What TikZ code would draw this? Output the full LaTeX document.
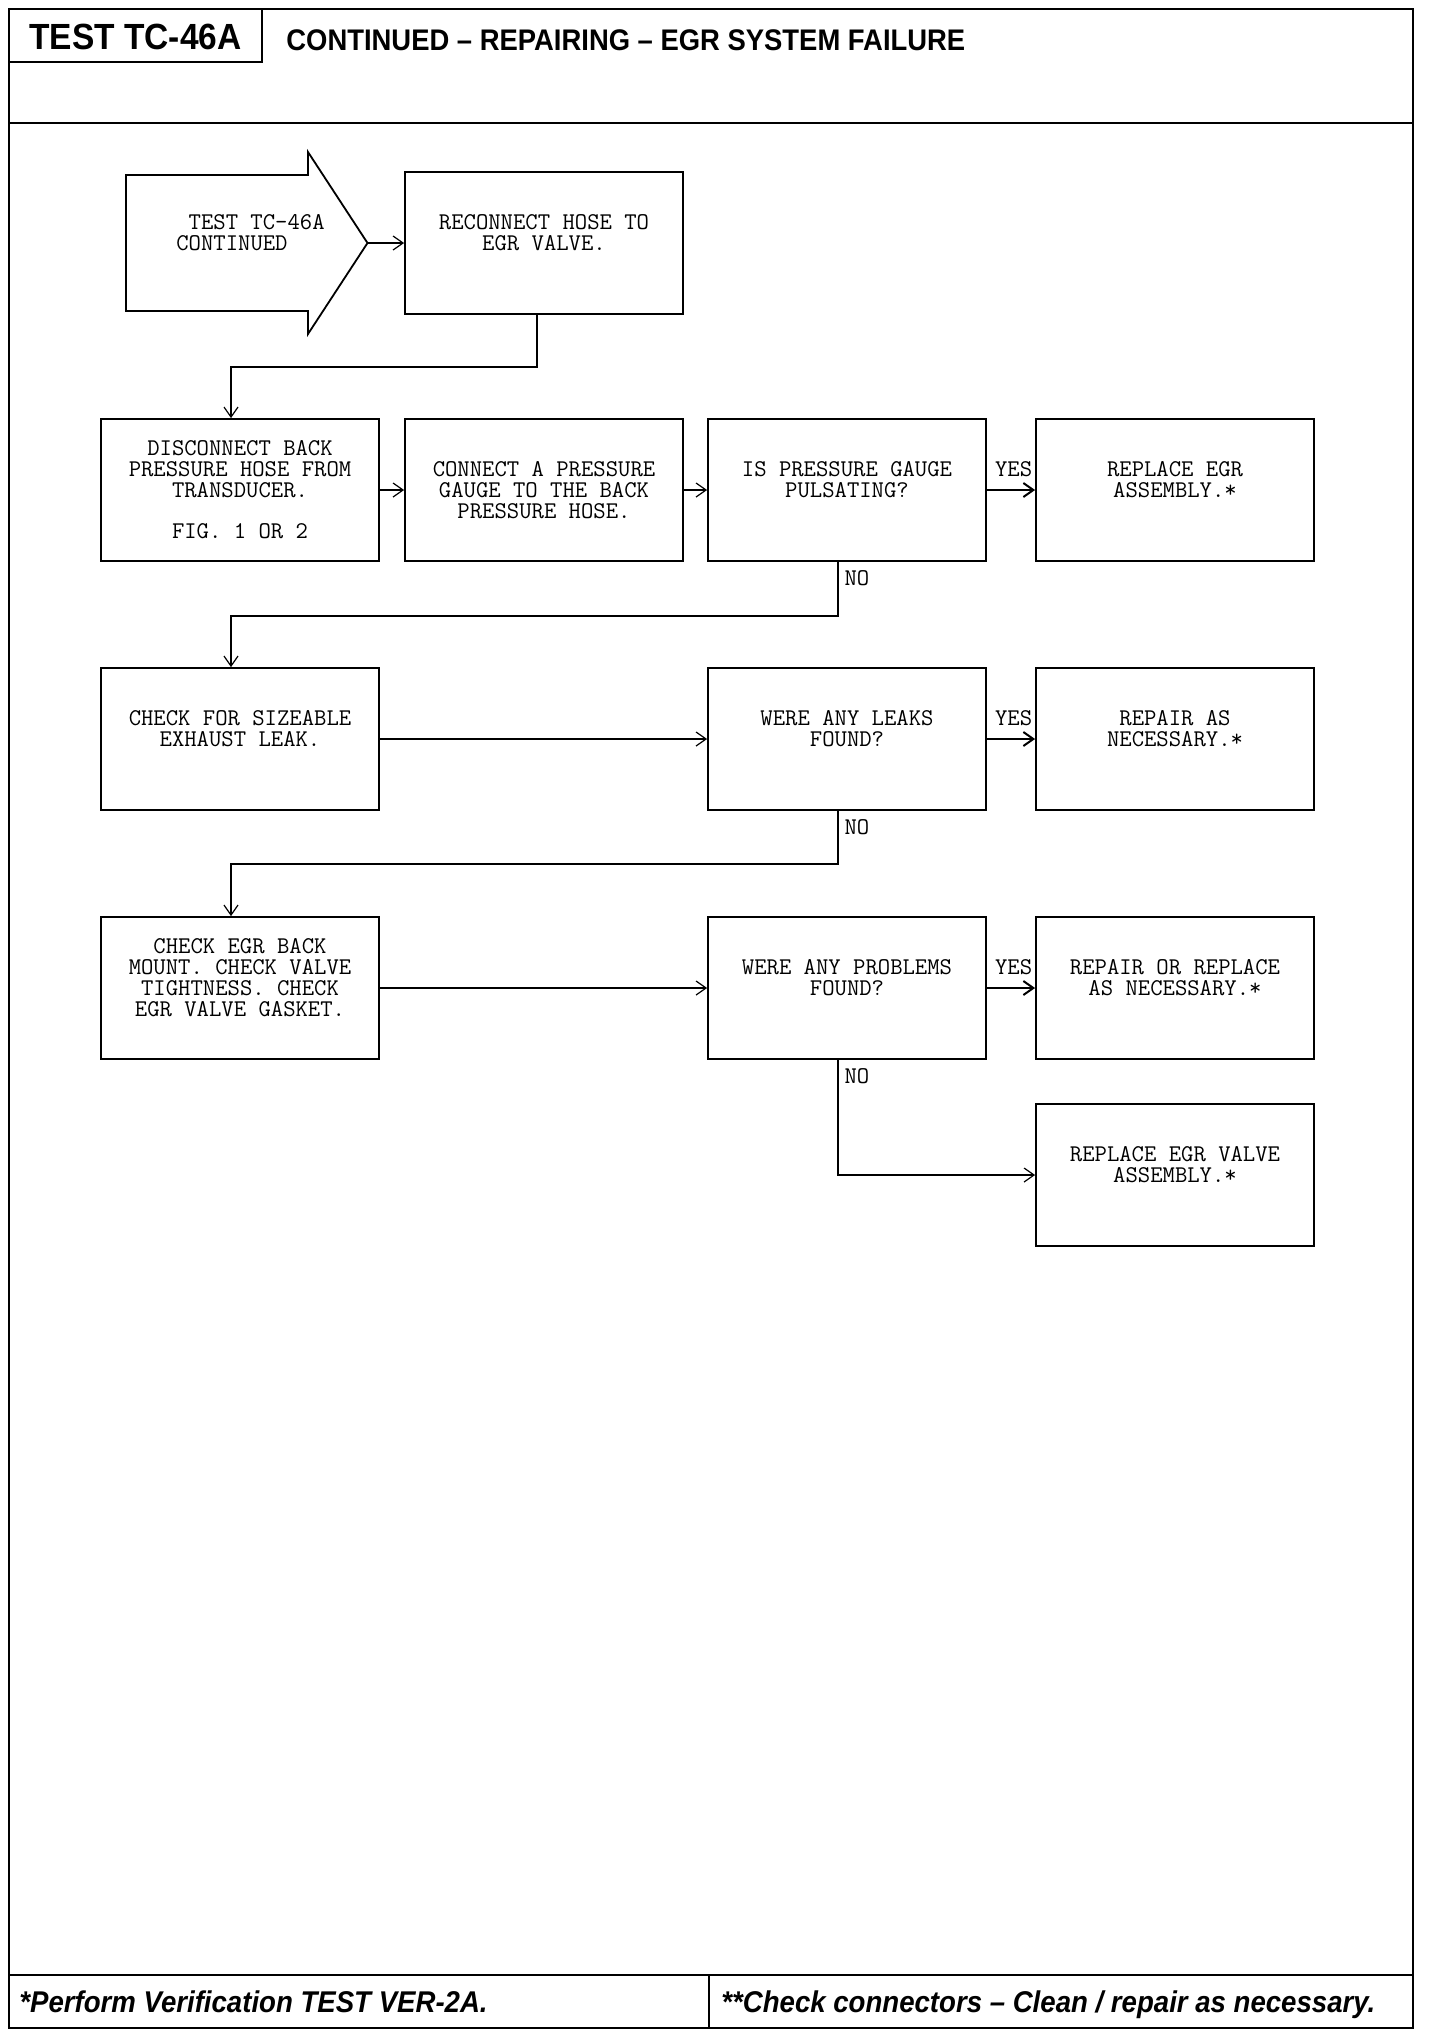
\documentclass[tikz,border=0pt]{standalone}
\usepackage{fontspec}
\setmainfont{Liberation Sans}
\newfontfamily\headfont[FakeStretch=0.92]{Liberation Sans}
\usetikzlibrary{arrows.meta}
\newcommand{\boxfont}{\ttfamily\fontsize{12}{10.4}\selectfont}
\newcommand{\titlefont}{\headfont\bfseries\fontsize{14.9}{16}\selectfont}
\newcommand{\notefont}{\headfont\bfseries\itshape\fontsize{15}{16}\selectfont}

\begin{document}
\begin{tikzpicture}[x=0.5pt,y=-0.5pt,
  every node/.style={inner sep=0pt}]
\tikzstyle{frame}=[line width=1.2pt]
\tikzstyle{stepbox}=[draw,line width=0.9pt,minimum width=139pt,minimum height=71pt,align=center,font=\boxfont]
\tikzstyle{conn}=[line width=0.6pt,-{Straight Barb[length=5pt,width=7pt]}]
\tikzstyle{yesconn}=[conn,line width=1pt]
\tikzstyle{yes}=[anchor=south east,font=\boxfont,inner xsep=1pt,inner ysep=6pt]
\tikzstyle{no}=[anchor=north west,font=\boxfont,inner xsep=3pt,inner ysep=4pt]
\useasboundingbox (0,0) rectangle (1440,2036);
\draw[frame] (9,9) rectangle (1413,2028);
\draw[frame] (9,123) -- (1413,123);
\draw[frame] (9,62) -| (262,9);
\draw[frame] (9,1975) -- (1413,1975);
\draw[frame] (709,1975) -- (709,2028);
\node[anchor=base,font=\headfont\bfseries\fontsize{18.2}{20}\selectfont] (testid) at (135.5,49) {TEST TC-46A};
\node[anchor=base west,font=\titlefont] (title) at (286,50) {CONTINUED – REPAIRING – EGR SYSTEM FAILURE};
\node[anchor=base west,font=\notefont] (note1) at (19,2012) {*Perform Verification TEST VER-2A.};
\node[anchor=base west,font=\notefont] (note2) at (721,2012) {**Check connectors – Clean / repair as necessary.};
\draw[line width=0.9pt] (126,175) -- (308,175) -- (308,152) -- (367.5,243) -- (308,334) -- (308,311) -- (126,311) -- cycle;
\coordinate (starttip) at (367.5,243);
\node[align=left,font=\boxfont] (start) at (250.5,243) {\hphantom{X}TEST TC-46A\\CONTINUED\\\mbox{}};
\node[stepbox] (recon) at (544,243) {RECONNECT HOSE TO\\EGR VALVE.\\\mbox{}};
\node[stepbox] (disc) at (240,490) {DISCONNECT BACK\\PRESSURE HOSE FROM\\TRANSDUCER.\\\mbox{}\\FIG. 1 OR 2};
\node[stepbox] (gauge) at (544,490) {CONNECT A PRESSURE\\GAUGE TO THE BACK\\PRESSURE HOSE.};
\node[stepbox] (pulse) at (847,490) {IS PRESSURE GAUGE\\PULSATING?\\\mbox{}};
\node[stepbox] (egrrep) at (1175,490) {REPLACE EGR\\ASSEMBLY.*\\\mbox{}};
\node[stepbox] (leak) at (240,739) {CHECK FOR SIZEABLE\\EXHAUST LEAK.\\\mbox{}};
\node[stepbox] (leakq) at (847,739) {WERE ANY LEAKS\\FOUND?\\\mbox{}};
\node[stepbox] (leakfix) at (1175,739) {REPAIR AS\\NECESSARY.*\\\mbox{}};
\node[stepbox] (mount) at (240,988) {CHECK EGR BACK\\MOUNT. CHECK VALVE\\TIGHTNESS. CHECK\\EGR VALVE GASKET.\\\mbox{}};
\node[stepbox] (probq) at (847,988) {WERE ANY PROBLEMS\\FOUND?\\\mbox{}};
\node[stepbox] (probfix) at (1175,988) {REPAIR OR REPLACE\\AS NECESSARY.*\\\mbox{}};
\node[stepbox] (valverep) at (1175,1175) {REPLACE EGR VALVE\\ASSEMBLY.*\\\mbox{}};
\draw[conn] (starttip) -- (recon.west);
\draw[conn] ([xshift=-3.5pt]recon.south) -- ++(0,52) -| ([xshift=-4.5pt]disc.north);
\draw[conn] (disc) -- (gauge);
\draw[conn] (gauge) -- (pulse);
\draw[yesconn] (pulse.east) -- (egrrep.west) node[yes]{YES};
\draw[conn] ([xshift=-4.5pt]pulse.south) node[no]{NO} -- ++(0,54) -| ([xshift=-4.5pt]leak.north);
\draw[conn] (leak) -- (leakq);
\draw[yesconn] (leakq.east) -- (leakfix.west) node[yes]{YES};
\draw[conn] ([xshift=-4.5pt]leakq.south) node[no]{NO} -- ++(0,53) -| ([xshift=-4.5pt]mount.north);
\draw[conn] (mount) -- (probq);
\draw[yesconn] (probq.east) -- (probfix.west) node[yes]{YES};
\draw[conn] ([xshift=-4.5pt]probq.south) node[no]{NO} |- (valverep.west);
\end{tikzpicture}
\end{document}
